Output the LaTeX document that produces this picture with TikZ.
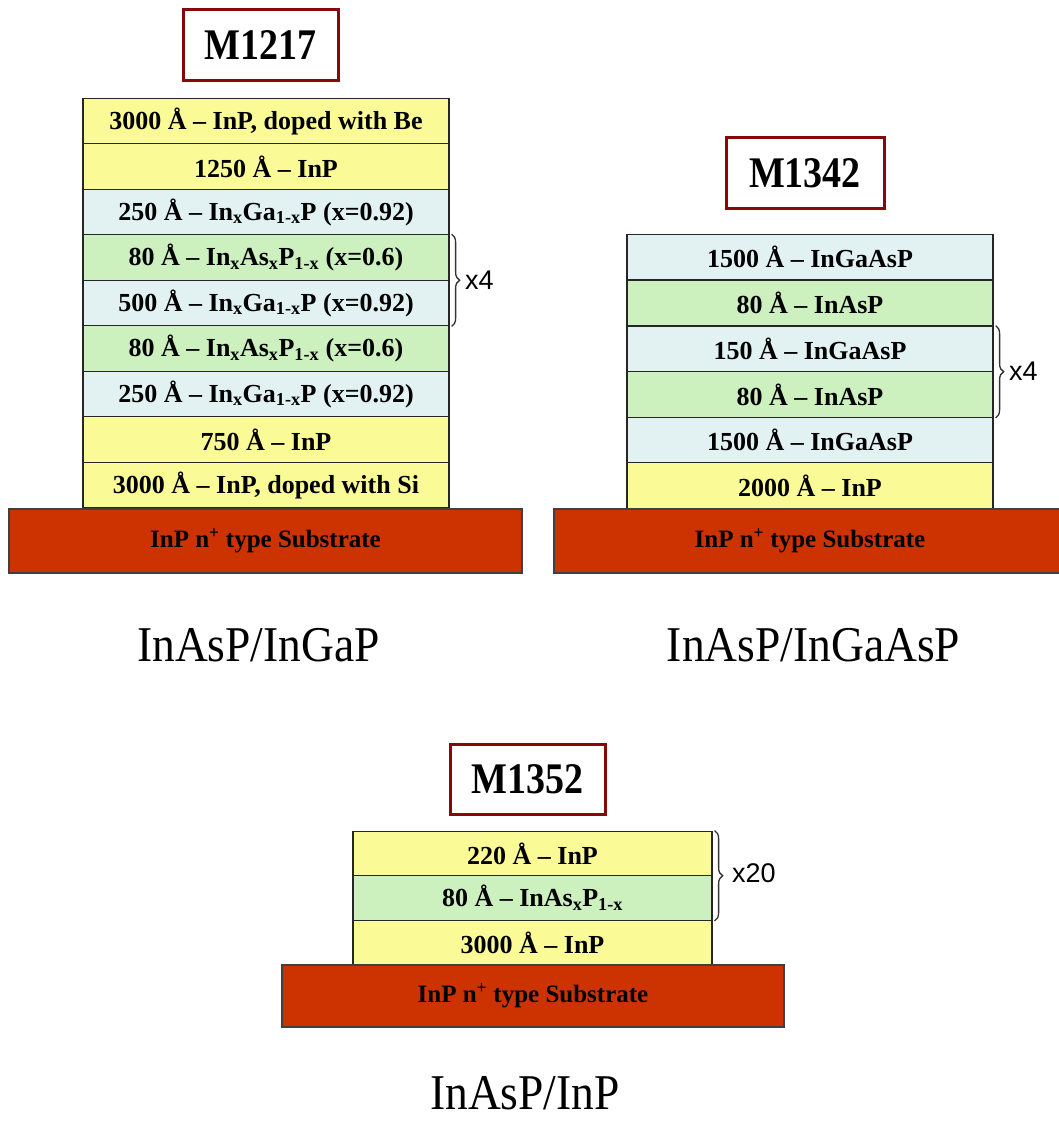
\documentclass[tikz,border=0pt]{standalone}
\usepackage{fontspec}
\usepackage{graphicx}
\setmainfont{Liberation Serif}
\newfontfamily\arialf{Liberation Sans}
\usetikzlibrary{decorations.pathreplacing}
\definecolor{ylw}{RGB}{250,250,150}
\definecolor{blu}{RGB}{226,242,242}
\definecolor{grn}{RGB}{204,240,190}
\definecolor{sub}{RGB}{204,51,0}
\definecolor{dred}{RGB}{136,8,8}
\newcommand{\ang}{Å}
\newcommand{\sbx}[1]{\textsubscript{#1}}
\newcommand{\tall}[2]{\scalebox{1}[#1]{#2}}
\begin{document}
\begin{tikzpicture}[x=1pt,y=-1pt,
  layer/.style={draw=black!85,line width=1.2pt,minimum height=45.5pt,inner sep=0pt,
     font=\fontsize{26}{30}\selectfont\bfseries},
  L1/.style={layer,minimum width=366pt},
  L3/.style={layer,minimum width=359pt,minimum height=44.7pt},
  substrate/.style={draw=black!75,line width=2pt,fill=sub,minimum height=64pt,inner sep=0pt,
     font=\fontsize{25}{29}\selectfont\bfseries},
  title/.style={draw=dred,line width=3pt,fill=white,minimum height=71pt,inner sep=0pt,
     font=\fontsize{38}{44}\selectfont\bfseries},
  caption/.style={anchor=base,inner sep=0pt,font=\fontsize{45.5}{52}\selectfont},
  brc/.style={draw=black!80,line width=1.3pt,decorate,decoration={brace,amplitude=8pt}},
  rep/.style={anchor=west,inner sep=0pt,font=\arialf\fontsize{27}{30}\selectfont}
]
\useasboundingbox (0,0) rectangle (1059,1122);

% ---------- M1217 ----------
\node[title,minimum width=155pt] (t1) at (260.5,45) {\tall{1.15}{M1217}};
\node[L1,fill=ylw] (a1) at (266,121) {3000 \ang{} – InP, doped with Be};
\node[L1,fill=ylw] (a2) at (266,166.5) {1250 \ang{} – InP};
\node[L1,fill=blu] (a3) at (266,212) {250 \ang{} – In\sbx{x}Ga\sbx{1-x}P (x=0.92)};
\node[L1,fill=grn] (a4) at (266,257.5) {80 \ang{} – In\sbx{x}As\sbx{x}P\sbx{1-x} (x=0.6)};
\node[L1,fill=blu] (a5) at (266,303) {500 \ang{} – In\sbx{x}Ga\sbx{1-x}P (x=0.92)};
\node[L1,fill=grn] (a6) at (266,348.5) {80 \ang{} – In\sbx{x}As\sbx{x}P\sbx{1-x} (x=0.6)};
\node[L1,fill=blu] (a7) at (266,394) {250 \ang{} – In\sbx{x}Ga\sbx{1-x}P (x=0.92)};
\node[L1,fill=ylw] (a8) at (266,439.5) {750 \ang{} – InP};
\node[L1,fill=ylw] (a9) at (266,485) {3000 \ang{} – InP, doped with Si};
\node[substrate,minimum width=513pt] (as) at (265.5,540.5) {InP n\textsuperscript{+} type Substrate};
\draw[brc] ([xshift=2pt]a4.north east) -- ([xshift=2pt]a5.south east);
\node[rep] (ar) at (465,280) {x4};
\node[caption] (ac) at (258.5,661) {\tall{1.1}{InAsP/InGaP}};

% ---------- M1342 ----------
\node[title,minimum width=158pt] (t2) at (805,173) {\tall{1.15}{M1342}};
\node[L1,fill=blu] (b1) at (810,257) {1500 \ang{} – InGaAsP};
\node[L1,fill=grn] (b2) at (810,303) {80 \ang{} – InAsP};
\node[L1,fill=blu] (b3) at (810,349) {150 \ang{} – InGaAsP};
\node[L1,fill=grn] (b4) at (810,394.5) {80 \ang{} – InAsP};
\node[L1,fill=blu] (b5) at (810,440) {1500 \ang{} – InGaAsP};
\node[L1,fill=ylw] (b6) at (810,485.5) {2000 \ang{} – InP};
\node[substrate,minimum width=513pt] (bs) at (810,540.5) {InP n\textsuperscript{+} type Substrate};
\draw[brc] ([xshift=2pt]b3.north east) -- ([xshift=2pt]b4.south east);
\node[rep] (br) at (1009,371) {x4};
\node[caption] (bc) at (813.5,661) {\tall{1.1}{InAsP/InGaAsP}};

% ---------- M1352 ----------
\node[title,minimum width=155pt,minimum height=70pt] (t3) at (527.5,779) {\tall{1.15}{M1352}};
\node[L3,fill=ylw] (c1) at (532.5,853.5) {220 \ang{} – InP};
\node[L3,fill=grn] (c2) at (532.5,898) {80 \ang{} – InAs\sbx{x}P\sbx{1-x}};
\node[L3,fill=ylw] (c3) at (532.5,942.5) {3000 \ang{} – InP};
\node[substrate,minimum width=502pt,minimum height=62pt] (cs) at (533,996) {InP n\textsuperscript{+} type Substrate};
\draw[brc] ([xshift=2pt]c1.north east) -- ([xshift=2pt]c2.south east);
\node[rep] (cr) at (732,873) {x20};
\node[caption] (cc) at (525,1109) {\tall{1.1}{InAsP/InP}};
\end{tikzpicture}
\end{document}
